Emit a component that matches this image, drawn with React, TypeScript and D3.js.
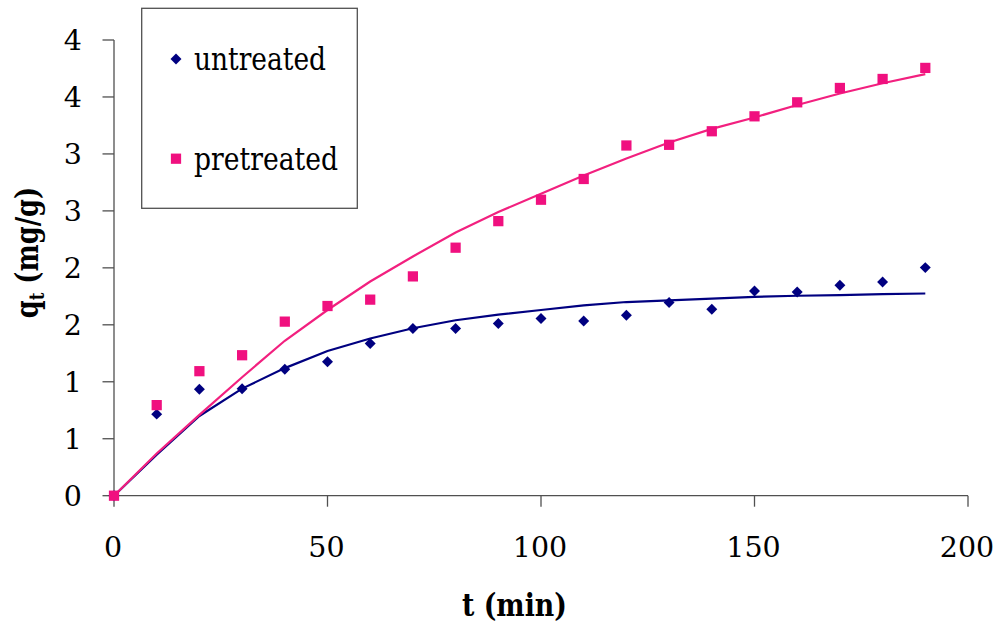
import React from "react";
import * as d3 from "d3";

const times = [0, 10, 20, 30, 40, 50, 60, 70, 80, 90, 100, 110, 120, 130, 140, 150, 160, 170, 180, 190];
const untreated = [0, 0.716, 0.935, 0.938, 1.11, 1.175, 1.336, 1.467, 1.467, 1.511, 1.555, 1.534, 1.584, 1.695, 1.636, 1.797, 1.788, 1.847, 1.876, 2.002];
const pretreated = [0, 0.795, 1.093, 1.233, 1.528, 1.665, 1.721, 1.925, 2.177, 2.41, 2.598, 2.78, 3.074, 3.08, 3.199, 3.33, 3.453, 3.579, 3.658, 3.755];
const untreatedFit = [0, 0.36, 0.7, 0.94, 1.12, 1.27, 1.38, 1.47, 1.54, 1.59, 1.63, 1.67, 1.7, 1.715, 1.73, 1.745, 1.755, 1.76, 1.77, 1.775];
const pretreatedFit = [0, 0.37, 0.71, 1.04, 1.36, 1.63, 1.88, 2.1, 2.31, 2.49, 2.65, 2.81, 2.96, 3.1, 3.22, 3.32, 3.43, 3.53, 3.62, 3.7];

const xTicks = [0, 50, 100, 150, 200];
const yTicks = [0, 0.5, 1, 1.5, 2, 2.5, 3, 3.5, 4];
const yTickLabels = ["0", "1", "1", "2", "2", "3", "3", "4", "4"];
const seriesNames = ["untreated", "pretreated"];

const BLUE = "#000080";
const PINK = "#F0107F";
const PINK_LINE = "#F2207F";
const AXIS = "#505050";
const FONT = '"DejaVu Serif", "Liberation Serif", serif';
const txt = { fontFamily: FONT };

export default function App() {
  const x = d3.scaleLinear().domain([0, 200]).range([114, 968]);
  const y = d3.scaleLinear().domain([0, 4]).range([495.7, 40]);

  const line = (vals: number[]) =>
    d3
      .line<number>()
      .x((_, i) => x(times[i]))
      .y((v) => y(v))(vals) as string;

  const diamond = d3.symbol().type(d3.symbolSquare).size(60)() as string;
  const square = d3.symbol().type(d3.symbolSquare).size(105)() as string;

  const y0 = y(0);

  return (
    <svg
      width={997}
      height={626}
      style={{ position: "absolute", left: 0, top: 0, background: "#fff", fontFamily: FONT }}
    >
      <rect x={0} y={0} width={997} height={626} fill="#fff" />
      <line x1={x(0)} x2={x(200)} y1={y0} y2={y0} stroke={AXIS} strokeWidth={1.3} />
      <line x1={x(0)} x2={x(0)} y1={y(4)} y2={y0} stroke={AXIS} strokeWidth={1.3} />
      {xTicks.map((t) => (
        <g key={"xt" + t}>
          <line x1={x(t)} x2={x(t)} y1={y0} y2={y0 + 11} stroke={AXIS} strokeWidth={1.3} />
          <text x={x(t) - 1} y={556.5} textAnchor="middle" fontSize={28.5} fill="#000" style={txt}>
            {t}
          </text>
        </g>
      ))}
      {yTicks.map((v, i) => (
        <g key={"yt" + v}>
          <line x1={x(0) - 11.5} x2={x(0)} y1={y(v)} y2={y(v)} stroke={AXIS} strokeWidth={1.3} />
          <text x={82} y={y(v)} dy="0.36em" textAnchor="end" fontSize={28.5} fill="#000" style={txt}>
            {yTickLabels[i]}
          </text>
        </g>
      ))}

      <text
        x={462}
        y={616}
        fontSize={31}
        fontWeight="bold"
        fill="#000"
        style={txt}
        textLength={105}
        lengthAdjust="spacingAndGlyphs"
      >
        t (min)
      </text>
      <text
        transform="translate(38,252.5) rotate(-90) scale(0.83,1)"
        textAnchor="middle"
        fontSize={31}
        fontWeight="bold"
        fill="#000"
        style={txt}
      >
        q<tspan fontSize={20} dy={6}>t</tspan>
        <tspan dy={-6}> (mg/g)</tspan>
      </text>

      <path d={line(untreatedFit)} fill="none" stroke={BLUE} strokeWidth={2.2} />
      <path d={line(pretreatedFit)} fill="none" stroke={PINK_LINE} strokeWidth={2.2} />

      {untreated.map((v, i) => (
        <path
          key={"u" + i}
          d={diamond}
          transform={`translate(${x(times[i])},${y(v)}) rotate(45)`}
          fill={BLUE}
        />
      ))}
      {pretreated.map((v, i) => (
        <path key={"p" + i} d={square} transform={`translate(${x(times[i])},${y(v)})`} fill={PINK} />
      ))}

      <rect x={141.7} y={8.3} width={215.6} height={200} fill="#fff" stroke={AXIS} strokeWidth={1.3} />
      <path d={diamond} transform="translate(176,59) rotate(45)" fill={BLUE} />
      <text
        x={194}
        y={70}
        fontSize={31}
        fill="#000"
        style={txt}
        textLength={132}
        lengthAdjust="spacingAndGlyphs"
      >
        {seriesNames[0]}
      </text>
      <path d={square} transform="translate(176,158.7)" fill={PINK} />
      <text
        x={194}
        y={170}
        fontSize={31}
        fill="#000"
        style={txt}
        textLength={144}
        lengthAdjust="spacingAndGlyphs"
      >
        {seriesNames[1]}
      </text>
    </svg>
  );
}
